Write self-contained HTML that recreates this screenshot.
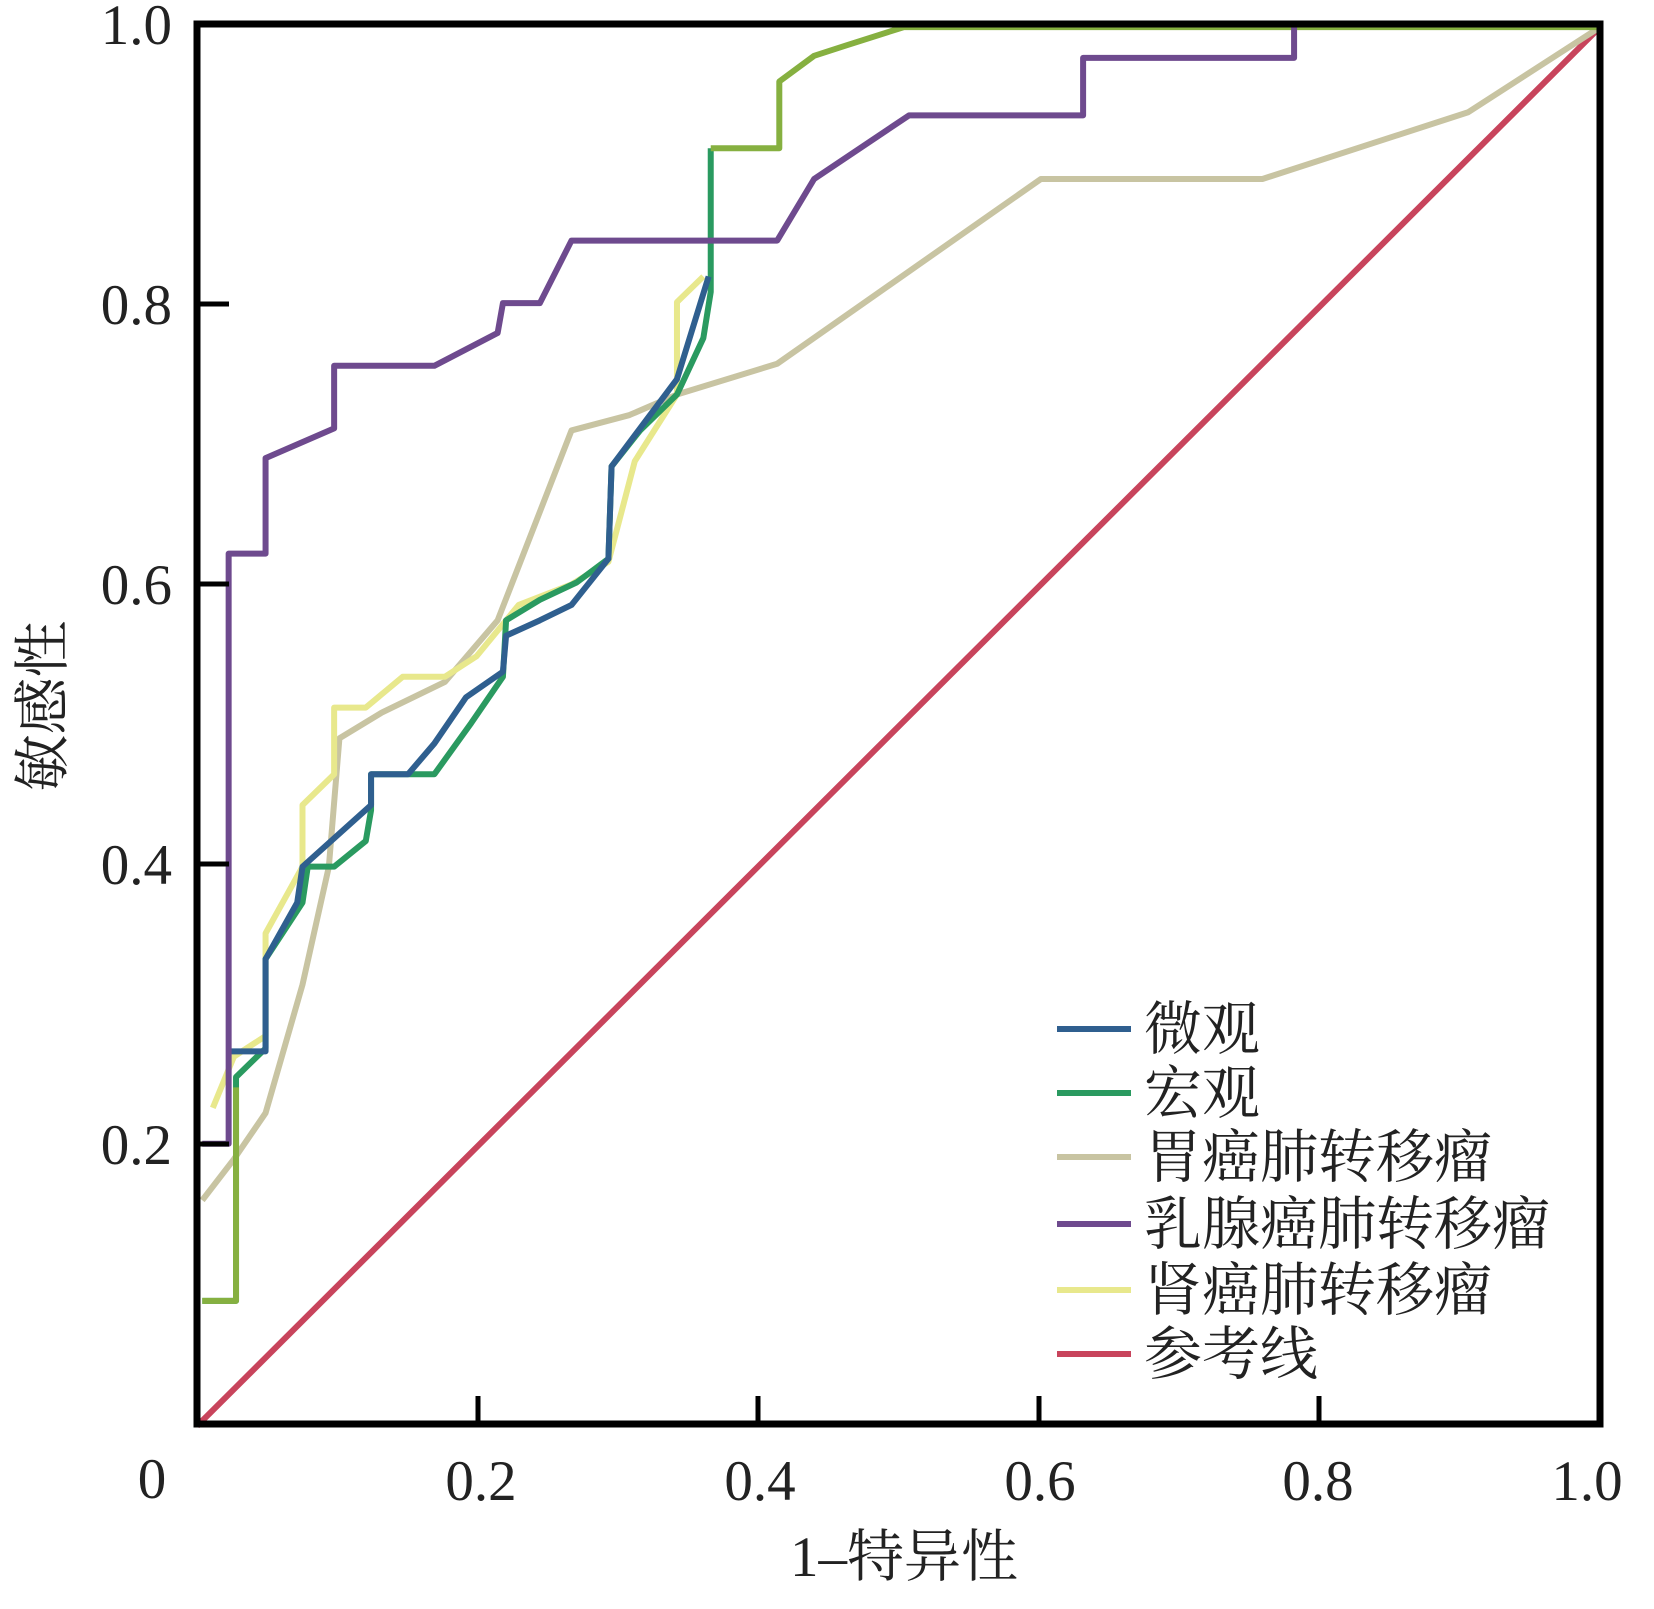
<!DOCTYPE html>
<html><head><meta charset="utf-8"><style>
html,body{margin:0;padding:0;background:#fff;}
svg{display:block;}
text{font-family:"Liberation Serif","Noto Serif CJK SC","Noto Sans CJK SC",serif;fill:#222;}
</style></head><body>
<svg width="1654" height="1609" viewBox="0 0 1654 1609" xmlns="http://www.w3.org/2000/svg">
<rect width="1654" height="1609" fill="#fff"/>
<g transform="matrix(1.05489,0,0,1.02639,1.845,-0.63)" fill="none" stroke-linejoin="round" stroke-width="6">
<polyline vector-effect="non-scaling-stroke" stroke="#c8445c" points="185,1390 1515,27"/>
<polyline vector-effect="non-scaling-stroke" stroke="#c8c4a2" points="190,1170 220,1130 250,1085 285,960 310,845 320,720 360,695 420,665 470,605 540,420 595,405 640,385 735,355 985,175 1195,175 1390,110 1515,27"/>
<polyline vector-effect="non-scaling-stroke" stroke="#e8e88c" points="200,1080 220,1030 250,1010 250,910 285,845 285,785 315,755 315,690 345,690 380,660 420,660 450,640 490,590 540,570 575,548 600,450 640,385 640,295 665,270"/>
<polyline vector-effect="non-scaling-stroke" stroke="#2a9a60" points="190,1268 222,1268 222,1050 250,1022 250,935 285,880 290,845 315,845 345,820 350,790 350,755 410,755 445,705 475,660 478,605 510,585 545,568 575,545 578,455 605,420 640,385 665,330 672,285 672,145"/>
<polyline vector-effect="non-scaling-stroke" stroke="#86b040" points="190,1268 222,1268 222,1060"/>
<polyline vector-effect="non-scaling-stroke" stroke="#86b040" points="672,145 737,145 737,80 770,55 800,45 855,27 1515,27"/>
<polyline vector-effect="non-scaling-stroke" stroke="#2f5f8f" points="215,1025 250,1025 250,935 280,880 285,845 350,785 350,755 385,755 410,725 440,680 475,655 478,620 510,605 540,590 575,545 578,455 640,370 670,270"/>
<polyline vector-effect="non-scaling-stroke" stroke="#6e4a8e" points="190,1115 215,1115 215,540 250,540 250,447 315,418 315,357 410,357 470,325 475,296 510,296 540,235 735,235 770,175 860,113 1025,113 1025,57 1225,57 1225,22"/>
</g>
<rect x="197" y="24" width="1403" height="1400" fill="none" stroke="#000" stroke-width="7"/>
<g stroke="#000" stroke-width="5">
<line x1="197" y1="1144" x2="229" y2="1144"/>
<line x1="197" y1="864" x2="229" y2="864"/>
<line x1="197" y1="584" x2="229" y2="584"/>
<line x1="197" y1="304" x2="229" y2="304"/>
<line x1="478" y1="1424" x2="478" y2="1396"/>
<line x1="758" y1="1424" x2="758" y2="1396"/>
<line x1="1039" y1="1424" x2="1039" y2="1396"/>
<line x1="1319" y1="1424" x2="1319" y2="1396"/>
</g>
<g font-size="57" text-anchor="end">
<text x="172" y="44">1.0</text>
<text x="172" y="324">0.8</text>
<text x="172" y="604">0.6</text>
<text x="172" y="884">0.4</text>
<text x="172" y="1164">0.2</text>
</g>
<g font-size="57" text-anchor="middle">
<text x="152" y="1498">0</text>
<text x="481" y="1500">0.2</text>
<text x="760" y="1500">0.4</text>
<text x="1040" y="1500">0.6</text>
<text x="1318" y="1500">0.8</text>
<text x="1587" y="1500">1.0</text>
<text x="904" y="1576">1–特异性</text>
<text transform="translate(62,706) rotate(-90)">敏感性</text>
</g>
<g stroke-width="6">
<line x1="1057" y1="1029" x2="1131" y2="1029" stroke="#2f5f8f"/>
<line x1="1057" y1="1093" x2="1131" y2="1093" stroke="#2a9a60"/>
<line x1="1057" y1="1157" x2="1131" y2="1157" stroke="#c8c4a2"/>
<line x1="1057" y1="1224" x2="1131" y2="1224" stroke="#6e4a8e"/>
<line x1="1057" y1="1290" x2="1131" y2="1290" stroke="#e8e88c"/>
<line x1="1057" y1="1354" x2="1131" y2="1354" stroke="#c8445c"/>
</g>
<g font-size="58">
<text x="1144" y="1049">微观</text>
<text x="1144" y="1113">宏观</text>
<text x="1144" y="1177">胃癌肺转移瘤</text>
<text x="1144" y="1244">乳腺癌肺转移瘤</text>
<text x="1144" y="1310">肾癌肺转移瘤</text>
<text x="1144" y="1374">参考线</text>
</g>
</svg>
</body></html>
